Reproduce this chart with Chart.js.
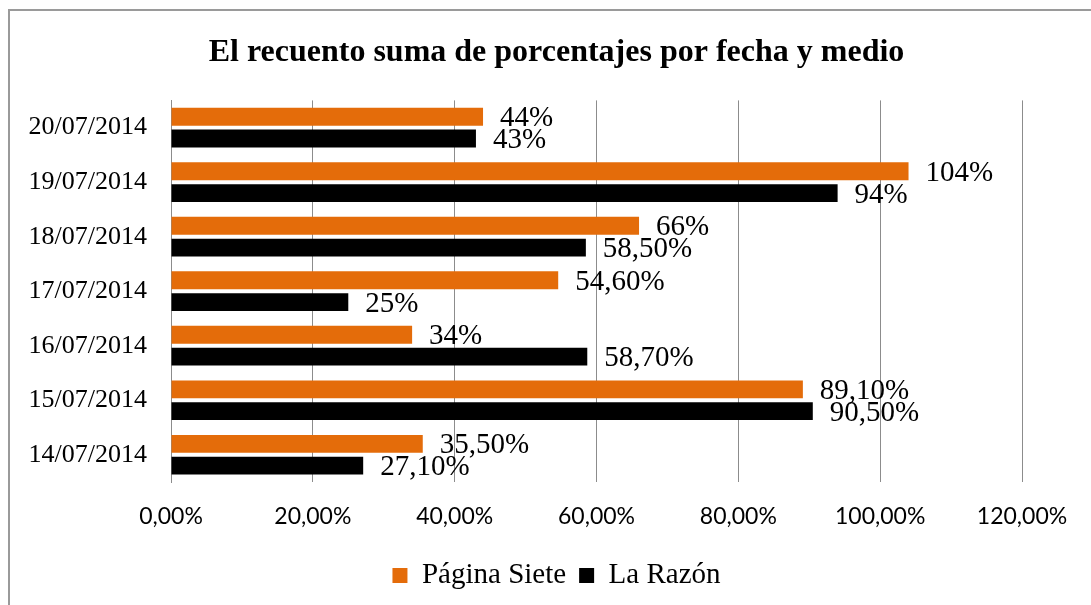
<!DOCTYPE html>
<html>
<head>
<meta charset="utf-8">
<script src="https://cdn.jsdelivr.net/npm/chart.js@4/dist/chart.umd.min.js"></script>
<style>
  html, body { margin: 0; padding: 0; background: #fff; }
  #wrap { position: relative; width: 1091px; height: 605px; overflow: hidden; }
  #frame {
    position: absolute; left: 8px; top: 9px; width: 1200px; height: 700px;
    border-top: 2px solid #9a9a9a; border-left: 2px solid #9a9a9a;
    pointer-events: none;
  }
</style>
</head>
<body>
<div id="wrap">
  <canvas id="chart" width="1091" height="605"></canvas>
  <div id="frame"></div>
</div>
<script>
const fechas = ["20/07/2014", "19/07/2014", "18/07/2014", "17/07/2014", "16/07/2014", "15/07/2014", "14/07/2014"];
const paginaSiete = [44, 104, 66, 54.6, 34, 89.1, 35.5];
const laRazon = [43, 94, 58.5, 25, 58.7, 90.5, 27.1];
const xTicks = [0, 20, 40, 60, 80, 100, 120];

const serif = "'Liberation Serif', 'Times New Roman', serif";

function labelText(v) {
  return Number.isInteger(v) ? v + "%" : v.toFixed(2).replace(".", ",") + "%";
}

// values written at the end of every bar
const barLabels = {
  id: "barLabels",
  afterDatasetsDraw(chart) {
    const ctx = chart.ctx;
    ctx.save();
    ctx.font = "29px " + serif;
    ctx.fillStyle = "#000";
    ctx.textAlign = "left";
    ctx.textBaseline = "middle";
    chart.data.datasets.forEach((ds, i) => {
      chart.getDatasetMeta(i).data.forEach((bar, j) => {
        ctx.fillText(labelText(ds.data[j]), bar.x + 17, bar.y + 2);
      });
    });
    ctx.restore();
  },
};

new Chart(document.getElementById("chart"), {
  type: "bar",
  data: {
    labels: fechas,
    datasets: [
      { label: "Página Siete", data: paginaSiete, backgroundColor: "#e46c0a" },
      { label: "La Razón", data: laRazon, backgroundColor: "#000000" },
    ],
  },
  options: {
    indexAxis: "y",
    responsive: false,
    animation: false,
    barPercentage: 0.82,
    categoryPercentage: 0.8,
    layout: { padding: { left: 22, right: 0, top: 0, bottom: 5 } },
    scales: {
      x: {
        min: 0,
        max: 120,
        afterBuildTicks: (scale) => {
          scale.ticks = xTicks.map((v) => ({ value: v }));
        },
        afterFit: (scale) => {
          scale.height = 66;
        },
        grid: { color: "#8c8c8c", drawTicks: false },
        border: { display: false },
        ticks: {
          padding: 21,
          color: "#000",
          font: { family: "Lato", size: 23 },
          callback: (v) => v.toFixed(2).replace(".", ",") + "%",
        },
      },
      y: {
        afterFit: (scale) => {
          scale.width = 149;
        },
        grid: { display: false, drawTicks: false },
        border: { color: "#8c8c8c" },
        ticks: {
          padding: 24,
          color: "#000",
          font: { family: serif, size: 26 },
        },
      },
      // empty axis on the right, only keeps room after the 120% gridline
      yRight: {
        type: "category",
        position: "right",
        afterFit: (scale) => {
          scale.width = 69;
        },
        grid: { display: false, drawTicks: false },
        border: { display: false },
        ticks: { display: false },
      },
    },
    plugins: {
      title: {
        display: true,
        text: "El recuento suma de porcentajes por fecha y medio",
        color: "#000",
        font: { family: serif, size: 32, weight: "bold" },
        padding: { top: 34, bottom: 28 },
      },
      legend: {
        position: "bottom",
        labels: {
          color: "#000",
          boxWidth: 15,
          boxHeight: 15,
          padding: 13,
          font: { family: serif, size: 29 },
        },
      },
      tooltip: { enabled: false },
    },
  },
  plugins: [barLabels],
});
</script>
</body>
</html>
